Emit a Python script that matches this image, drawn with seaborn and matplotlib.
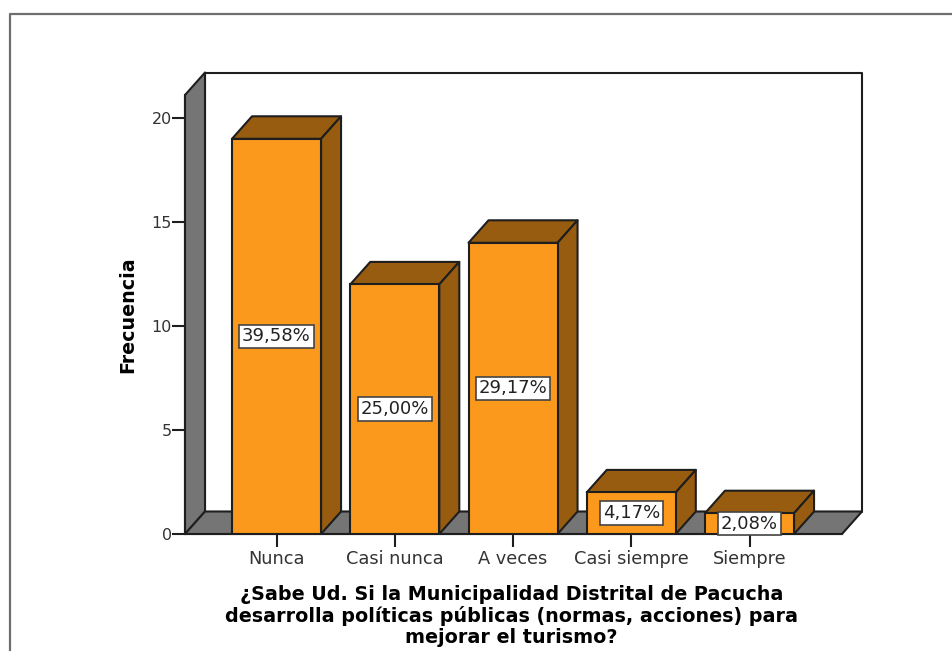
import pandas as pd
import seaborn as sns
import matplotlib.pyplot as plt
from matplotlib.patches import Polygon
from matplotlib.lines import Line2D

categorias = ["Nunca", "Casi nunca", "A veces", "Casi siempre", "Siempre"]
frecuencia = [19, 12, 14, 2, 1]
porcentajes = ["39,58%", "25,00%", "29,17%", "4,17%", "2,08%"]
ticks_y = [0, 5, 10, 15, 20]
xlabel = ("¿Sabe Ud. Si la Municipalidad Distrital de Pacucha\n"
          "desarrolla políticas públicas (normas, acciones) para\n"
          "mejorar el turismo?")

NARANJA = "#FB991D"
MARRON = "#985C10"
GRIS = "#757575"
BORDE = "#1E1E1E"
W, H = 953, 651

df = pd.DataFrame({"categoria": categorias, "frecuencia": frecuencia})

sns.set_style("white")
plt.rcParams["font.family"] = ["DejaVu Sans"]

fig = plt.figure(figsize=(W / 100, H / 100), dpi=100)
# Front plane of the 3D box, in pixels of the picture
ax = fig.add_axes([185 / W, 1 - 534 / H, (842 - 185) / W, (534 - 95) / H])

sns.barplot(data=df, x="categoria", y="frecuencia", color=NARANJA, saturation=1,
            width=0.753, edgecolor=BORDE, linewidth=1.5, ax=ax, zorder=5)

# Scales: one category = 118.25 px, one unit = 20.8 px
ax.set_xlim(-0.774, 4.782)
ax.set_ylim(0, 439 / 20.8)
dx = 20 / 118.25
dy = 22.5 / 20.8
x0, x1 = ax.get_xlim()
y1 = ax.get_ylim()[1]


def cara(puntos, color, z):
    ax.add_patch(Polygon(puntos, closed=True, facecolor=color, edgecolor=BORDE,
                         linewidth=1.5, clip_on=False, zorder=z, joinstyle="round"))


# ✅ Walls and floor
cara([(x0 + dx, dy), (x1 + dx, dy), (x1 + dx, y1 + dy), (x0 + dx, y1 + dy)], "white", 1)
cara([(x0, 0), (x0 + dx, dy), (x0 + dx, y1 + dy), (x0, y1)], GRIS, 2)
cara([(x0, 0), (x1, 0), (x1 + dx, dy), (x0 + dx, dy)], GRIS, 2)

# ✅ Top and side of every bar
for bar in ax.containers[0]:
    a = bar.get_x()
    b = a + bar.get_width()
    h = bar.get_height()
    cara([(a, h), (b, h), (b + dx, h + dy), (a + dx, h + dy)], MARRON, 4)
    cara([(b, 0), (b + dx, dy), (b + dx, h + dy), (b, h)], MARRON, 4)

# ✅ Percent labels
etiquetas = ax.bar_label(ax.containers[0], labels=porcentajes, label_type="center",
                         fontsize=13, color="#222222", zorder=6,
                         bbox=dict(boxstyle="square,pad=0.16", facecolor="white",
                                   edgecolor="#444444", linewidth=1.2))
for t in etiquetas:
    t.set_zorder(6)

ax.set_yticks(ticks_y)
ax.tick_params(axis="y", length=9.5, width=1.5, color=BORDE, labelsize=11.5,
               labelcolor="#333333", pad=0, left=True)
ax.tick_params(axis="x", length=9.5, width=1.5, color=BORDE, labelsize=12.8,
               labelcolor="#333333", pad=2, bottom=True)

sns.despine(ax=ax)
for s in ["left", "bottom"]:
    ax.spines[s].set_color(BORDE)
    ax.spines[s].set_linewidth(1.5)
    ax.spines[s].set_zorder(3)

ax.set_ylabel("Frecuencia", fontsize=13.7, fontweight="bold", color="black")
ax.yaxis.set_label_coords((137 - 185) / 657, (534 - 315) / 439)
ax.set_xlabel(xlabel, fontsize=13.8, fontweight="bold", color="black", linespacing=1.14)
ax.xaxis.set_label_coords(0.497, (534 - 585) / 439)

# ✅ Grey frame around the picture
fig.add_artist(Line2D([10 / W, 10 / W, 1], [0, 1 - 14 / H, 1 - 14 / H],
                      color="#6E6E6E", linewidth=1.6, transform=fig.transFigure))

plt.savefig("out.png", dpi=100)
